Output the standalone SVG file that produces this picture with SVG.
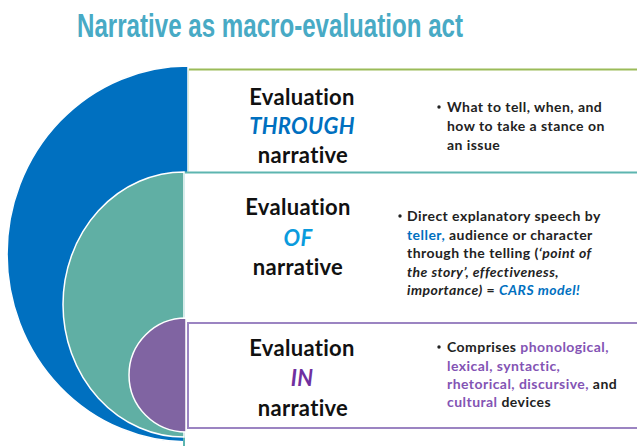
<svg xmlns="http://www.w3.org/2000/svg" width="637" height="446" viewBox="0 0 637 446">
  <style>
    text { font-variant-ligatures: none; }
    .title { font-family: "Liberation Sans Narrow", "Liberation Sans", Arial, sans-serif; font-weight: bold; font-size: 33px; fill: #48AAC5; }
    .label { font-family: Lato, "Liberation Sans", sans-serif; font-weight: bold; font-size: 22px; letter-spacing: 0.3px; fill: #111; text-anchor: middle; }
    .body { font-family: Lato, "Liberation Sans", sans-serif; font-weight: bold; font-size: 14px; letter-spacing: 0.45px; fill: #222; }
    .ital { font-style: italic; }
    .blue { fill: #0070C0; }
    .sky { fill: #0A9BDD; }
    .violet { fill: #7030A0; }
    .lilac { fill: #8354B4; }
    .box { fill: #fff; stroke-width: 2; }
    .disc { stroke: #fff; stroke-width: 1.5; }
  </style>

  <rect width="637" height="446" fill="#fff"/>

  <text class="title" x="77" y="37" textLength="386" lengthAdjust="spacingAndGlyphs">Narrative as macro-evaluation act</text>

  <!-- outer ring: evaluation through narrative -->
  <g id="through">
    <rect class="box" x="188" y="69.5" width="460" height="390" stroke="#9BBB59"/>
    <path class="disc" d="M188,66 A181,188 0 0 0 188,442 Z" fill="#0070C0"/>
    <text class="label" x="302" y="105">Evaluation</text>
    <text class="label ital blue" x="302" y="134">THROUGH</text>
    <text class="label" x="303" y="163">narrative</text>
    <circle cx="439" cy="107" r="1.7" fill="#222"/>
    <text class="body" x="447" y="112">What to tell, when, and</text>
    <text class="body" x="447" y="131">how to take a stance on</text>
    <text class="body" x="447" y="150">an issue</text>
  </g>

  <!-- middle ring: evaluation of narrative -->
  <g id="of">
    <rect class="box" x="184" y="172.5" width="460" height="290" stroke="#5DB5B0"/>
    <path class="disc" d="M184,172 A121,132.5 0 0 0 184,437 Z" fill="#60AFA4"/>
    <text class="label" x="298" y="215">Evaluation</text>
    <text class="label ital sky" x="298" y="246">OF</text>
    <text class="label" x="298" y="275">narrative</text>
    <circle cx="400" cy="216" r="1.7" fill="#222"/>
    <text class="body" x="407" y="221">Direct explanatory speech by</text>
    <text class="body" x="407" y="240"><tspan class="blue">teller,</tspan> audience or character</text>
    <text class="body" x="407" y="258">through the telling (<tspan class="ital">‘point of</tspan></text>
    <text class="body ital" x="407" y="277">the story’, effectiveness,</text>
    <text class="body" x="407" y="295"><tspan class="ital">importance)</tspan> = <tspan class="ital blue">CARS model!</tspan></text>
  </g>

  <!-- inner disc: evaluation in narrative -->
  <g id="in">
    <rect class="box" x="188" y="323" width="460" height="105" stroke="#9B84C2"/>
    <path class="disc" d="M186,318 A57,57 0 0 0 186,432 Z" fill="#8064A2"/>
    <text class="label" x="302" y="356">Evaluation</text>
    <text class="label ital violet" x="302" y="386">IN</text>
    <text class="label" x="303" y="416">narrative</text>
    <circle cx="439" cy="347" r="1.7" fill="#222"/>
    <text class="body" x="447" y="352">Comprises <tspan class="lilac">phonological,</tspan></text>
    <text class="body lilac" x="447" y="371">lexical, syntactic,</text>
    <text class="body" x="447" y="389"><tspan class="lilac">rhetorical, discursive,</tspan> and</text>
    <text class="body" x="447" y="407"><tspan class="lilac">cultural</tspan> devices</text>
  </g>
</svg>
